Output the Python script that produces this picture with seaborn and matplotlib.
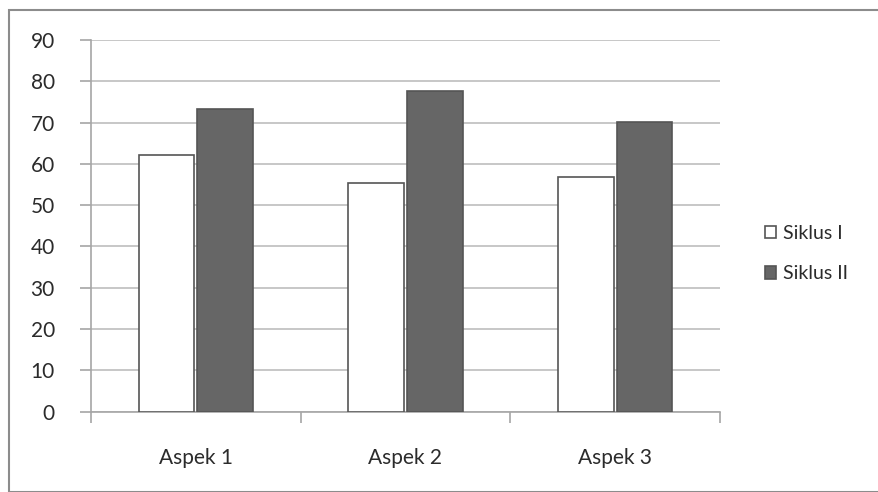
import matplotlib
matplotlib.use('Agg')
import matplotlib.pyplot as plt
import numpy as np
import pandas as pd
import seaborn as sns

# Data
aspek = ['Aspek 1', 'Aspek 2', 'Aspek 3']
siklus_1 = [62.2, 55.3, 56.8]
siklus_2 = [73.3, 77.6, 70.1]
series = ['Siklus I', 'Siklus II']
y_ticks = list(range(0, 100, 10))

df = pd.DataFrame({
    'aspek': aspek * 2,
    'siklus': [series[0]] * 3 + [series[1]] * 3,
    'nilai': siklus_1 + siklus_2,
})

sns.set_style('white')
plt.rcParams['font.family'] = ['Lato', 'DejaVu Sans']

fig = plt.figure(figsize=(8.79, 4.92), dpi=100)
ax = fig.add_axes([91 / 879, 1 - 411.5 / 492, (720 - 91) / 879, (411.5 - 40) / 492])

sns.barplot(data=df, x='aspek', y='nilai', hue='siklus', order=aspek,
            hue_order=series, palette=['white', '#666666'], width=0.56,
            gap=0.05, edgecolor='#555555', linewidth=1.2, ax=ax, zorder=3)

ax.set_ylim(0, 90)
ax.set_yticks(y_ticks)
ax.set_xlim(-0.5, 2.5)
ax.yaxis.grid(True, color='#bdbdbd', linewidth=1.2, zorder=0)
ax.set_axisbelow(True)
ax.set_xlabel('')
ax.set_ylabel('')

for s in ['top', 'right']:
    ax.spines[s].set_visible(False)
for s in ['left', 'bottom']:
    ax.spines[s].set_color('#a6a6a6')
    ax.spines[s].set_linewidth(1.2)

ax.tick_params(axis='y', length=8, color='#a6a6a6', width=1.2, labelsize=15,
               labelcolor='#2b2b2b', left=True, pad=18)
ax.tick_params(axis='x', length=0, labelsize=15, labelcolor='#2b2b2b', pad=26)
ax.set_xticks([-0.5, 0.5, 1.5, 2.5], minor=True)
ax.tick_params(axis='x', which='minor', length=8, color='#a6a6a6', width=1.2,
               bottom=True)

leg = ax.legend(loc='center left', bbox_to_anchor=(1.043, 0.425), frameon=False,
                fontsize=14, handlelength=0.6, handleheight=0.6,
                handletextpad=0.35, labelspacing=1.2, labelcolor='#2b2b2b')

# outer chart frame
fig.patches.append(plt.Rectangle((9 / 879, 0), 1, 1 - 10 / 492,
                                 transform=fig.transFigure, fill=False,
                                 edgecolor='#8c8c8c', linewidth=1.5))

fig.savefig('out.png', dpi=100)
